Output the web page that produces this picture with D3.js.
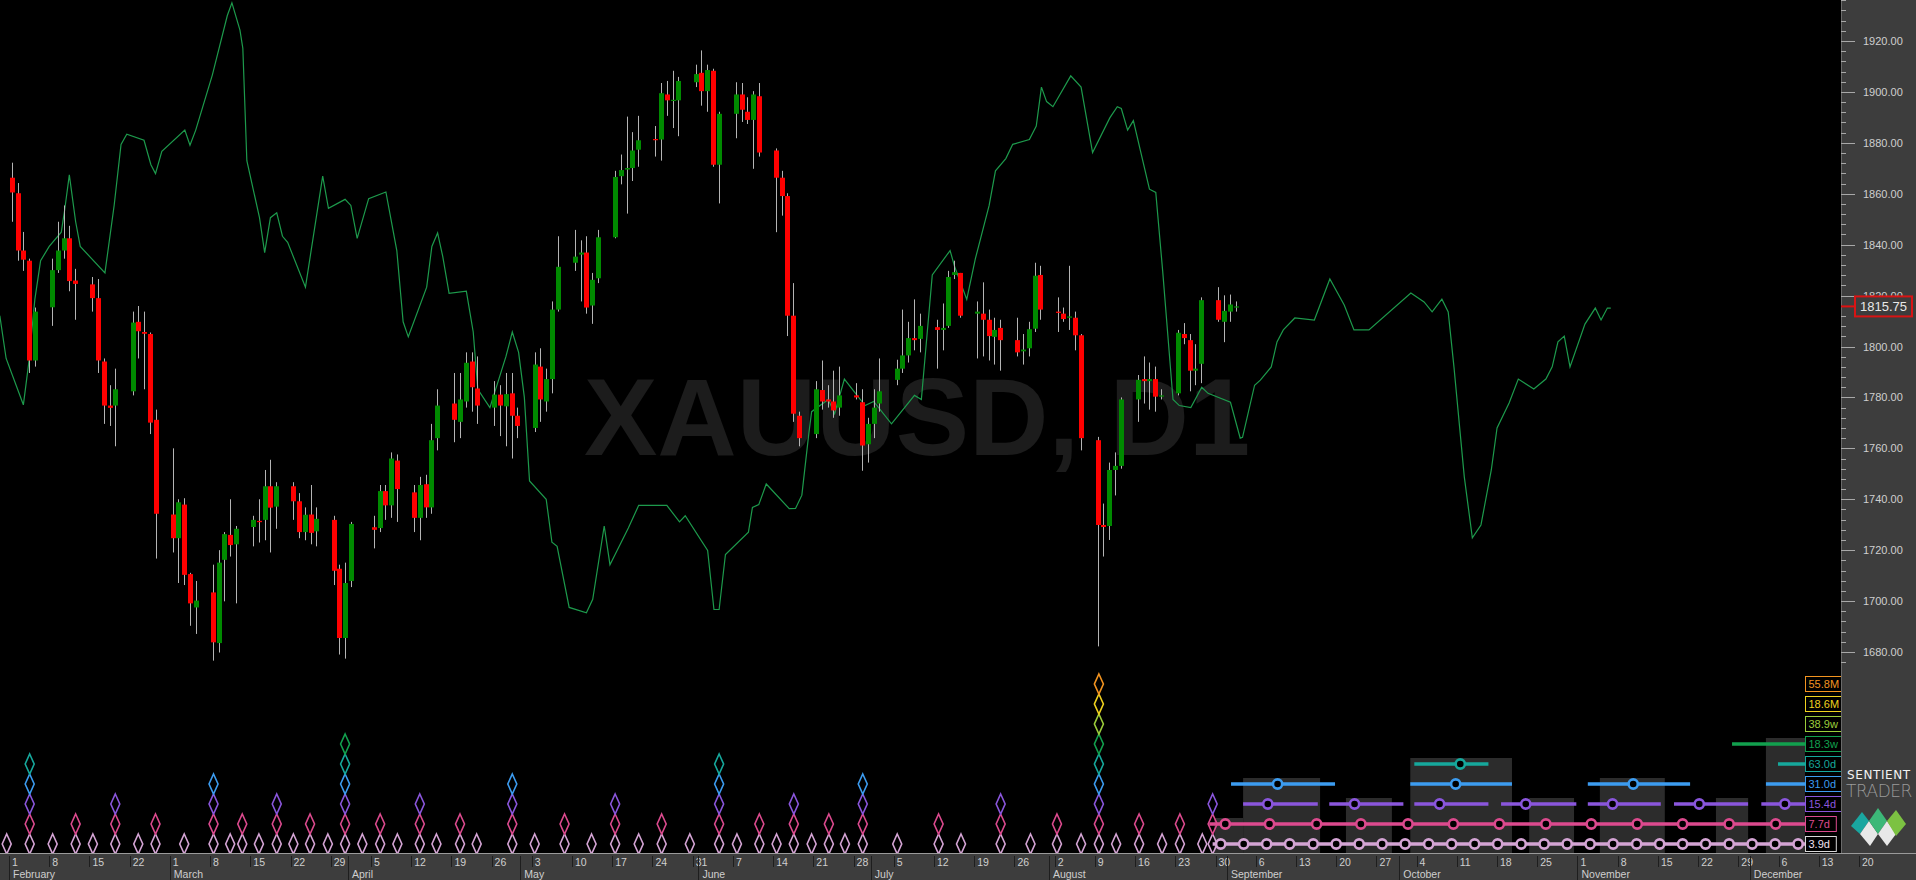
<!DOCTYPE html>
<html><head><meta charset="utf-8">
<script src="https://cdn.jsdelivr.net/npm/d3@7"></script>
<style>html,body{margin:0;padding:0;background:#000;overflow:hidden}svg{display:block}</style>
</head><body>
<svg id="c" width="1916" height="880"></svg>
<script>
// ---------------- DATA ----------------
const candleDates = ["02-01","02-02","02-03","02-04","02-05","02-08","02-09","02-10","02-11","02-12","02-15","02-16","02-17","02-18","02-19","02-22","02-23","02-24","02-25","02-26","03-01","03-02","03-03","03-04","03-05","03-08","03-09","03-10","03-11","03-12","03-15","03-16","03-17","03-18","03-19","03-22","03-23","03-24","03-25","03-26","03-29","03-30","03-31","04-01","04-05","04-06","04-07","04-08","04-09","04-12","04-13","04-14","04-15","04-16","04-19","04-20","04-21","04-22","04-23","04-26","04-27","04-28","04-29","04-30","05-03","05-04","05-05","05-06","05-07","05-10","05-11","05-12","05-13","05-14","05-17","05-18","05-19","05-20","05-21","05-24","05-25","05-26","05-27","05-28","05-31","06-01","06-02","06-03","06-04","06-07","06-08","06-09","06-10","06-11","06-14","06-15","06-16","06-17","06-18","06-21","06-22","06-23","06-24","06-25","06-28","06-29","06-30","07-01","07-02","07-05","07-06","07-07","07-08","07-09","07-12","07-13","07-14","07-15","07-16","07-19","07-20","07-21","07-22","07-23","07-26","07-27","07-28","07-29","07-30","08-02","08-03","08-04","08-05","08-06","08-09","08-10","08-11","08-12","08-13","08-16","08-17","08-18","08-19","08-20","08-23","08-24","08-25","08-26","08-27","08-30","08-31","09-01","09-02"];
const openP  = [1866.3,1860.2,1837.7,1833.7,1794.5,1815.4,1830.0,1837.7,1842.5,1825.9,1824.4,1819.0,1794.1,1776.8,1776.8,1782.4,1809.7,1805.7,1804.9,1771.2,1734.0,1724.7,1737.9,1710.6,1697.5,1703.4,1683.5,1716.2,1726.0,1722.3,1729.1,1731.5,1731.9,1745.1,1737.1,1745.1,1739.2,1727.1,1734.0,1727.4,1731.9,1712.7,1685.5,1707.9,1729.0,1728.7,1743.2,1737.6,1755.2,1742.7,1732.7,1745.9,1736.8,1764.0,1777.6,1770.4,1778.4,1794.1,1783.5,1776.0,1781.1,1776.5,1781.6,1772.8,1768.0,1792.1,1778.4,1787.2,1814.5,1832.9,1836.1,1836.9,1816.1,1826.8,1842.9,1866.9,1869.5,1870.1,1877.3,1881.5,1881.3,1899.0,1896.7,1896.7,1903.8,1907.5,1900.3,1908.3,1871.4,1891.4,1899.0,1892.2,1889.0,1898.3,1877.0,1866.3,1859.1,1812.1,1772.8,1765.6,1782.9,1779.2,1778.4,1776.0,1780.8,1778.1,1761.6,1769.6,1777.6,1786.9,1791.3,1796.5,1803.3,1803.0,1807.6,1806.5,1808.1,1828.1,1828.9,1812.9,1812.9,1810.5,1803.8,1807.3,1802.5,1798.1,1799.3,1807.0,1828.1,1813.7,1812.9,1811.3,1811.3,1804.4,1763.2,1729.9,1729.5,1751.5,1753.1,1779.2,1787.2,1786.4,1787.2,1780.3,1781.6,1804.9,1802.5,1790.5,1793.2,1818.2,1809.7,1813.7,1815.3];
const highP  = [1872.2,1864.2,1845.0,1834.5,1815.3,1834.5,1849.0,1855.4,1847.4,1830.5,1827.3,1826.5,1795.3,1784.8,1791.3,1813.7,1815.9,1813.7,1805.5,1775.2,1760.0,1740.0,1740.4,1711.1,1707.9,1714.3,1720.0,1727.1,1740.0,1729.5,1733.5,1740.0,1751.5,1755.5,1746.7,1746.7,1742.4,1736.8,1745.6,1736.8,1733.5,1714.3,1715.1,1731.1,1733.5,1745.6,1745.6,1758.4,1757.6,1745.6,1748.8,1749.6,1769.6,1783.2,1789.6,1789.6,1797.7,1797.7,1796.1,1786.4,1784.8,1789.6,1789.6,1776.0,1797.7,1799.3,1791.3,1817.7,1843.3,1845.8,1841.7,1843.3,1828.9,1845.8,1869.0,1875.4,1890.3,1884.2,1890.6,1886.6,1903.5,1904.3,1908.3,1905.9,1910.7,1916.3,1910.7,1909.1,1892.2,1903.8,1903.5,1897.9,1900.3,1903.5,1877.8,1869.0,1860.2,1824.9,1774.4,1786.4,1794.5,1784.8,1790.5,1792.1,1785.6,1783.2,1772.0,1783.2,1795.3,1794.8,1814.5,1809.7,1818.5,1812.9,1810.5,1816.9,1829.7,1833.7,1828.9,1817.7,1825.2,1814.5,1811.3,1810.5,1811.3,1804.9,1809.7,1832.9,1831.7,1819.3,1815.3,1831.7,1813.7,1804.9,1764.5,1738.3,1754.4,1758.4,1780.0,1788.8,1796.1,1793.7,1792.1,1783.2,1806.5,1809.2,1804.9,1800.9,1819.3,1823.3,1820.1,1820.4,1817.7];
const lowP   = [1849.0,1833.7,1829.7,1789.6,1792.1,1808.1,1828.9,1834.5,1821.7,1810.5,1813.7,1789.6,1769.6,1768.8,1760.8,1780.8,1795.3,1783.2,1765.6,1716.7,1719.1,1707.1,1706.3,1690.3,1687.1,1676.6,1679.8,1699.9,1717.5,1699.1,1721.5,1723.0,1723.9,1719.1,1728.4,1731.9,1724.7,1723.9,1722.3,1721.5,1706.3,1679.0,1677.4,1705.5,1720.7,1727.1,1731.9,1732.7,1731.1,1727.1,1723.9,1732.7,1734.3,1759.2,1762.4,1764.0,1776.0,1774.4,1769.6,1768.8,1764.8,1760.8,1756.0,1764.0,1766.4,1770.4,1774.4,1781.6,1813.7,1829.7,1817.7,1812.9,1808.9,1824.9,1842.5,1863.7,1852.2,1865.0,1870.6,1874.6,1873.0,1890.6,1885.8,1882.6,1901.9,1894.6,1892.2,1870.6,1856.2,1881.8,1888.2,1887.4,1869.8,1874.6,1844.9,1851.4,1804.1,1770.4,1760.8,1764.0,1775.2,1776.0,1772.0,1772.8,1779.2,1751.2,1754.4,1764.0,1774.4,1784.8,1789.6,1793.7,1798.5,1797.7,1791.3,1798.5,1807.3,1826.5,1811.3,1795.3,1796.1,1794.5,1792.9,1790.5,1796.1,1792.9,1796.1,1805.7,1810.5,1805.7,1809.7,1806.5,1798.5,1759.2,1682.2,1717.5,1724.0,1741.5,1752.0,1770.4,1777.6,1775.2,1774.4,1779.2,1780.8,1800.9,1782.4,1784.8,1785.6,1809.7,1801.7,1809.7,1813.7];
const closeP = [1860.5,1837.7,1834.1,1794.5,1813.7,1830.0,1837.7,1842.5,1825.7,1824.6,1819.0,1794.5,1776.8,1775.9,1783.2,1809.4,1806.0,1805.0,1770.1,1734.3,1724.7,1738.8,1710.3,1699.1,1700.2,1683.8,1715.1,1726.3,1722.0,1728.4,1731.9,1731.0,1745.1,1736.7,1745.1,1739.2,1727.1,1733.9,1726.8,1732.3,1711.9,1685.5,1707.1,1730.3,1728.0,1743.2,1737.6,1756.0,1744.0,1732.7,1745.6,1736.8,1763.2,1776.8,1771.2,1779.2,1793.6,1784.0,1776.8,1781.1,1776.8,1781.3,1772.8,1768.8,1792.9,1779.2,1787.2,1814.5,1831.3,1835.3,1836.9,1815.3,1826.2,1842.9,1866.6,1869.3,1870.1,1877.0,1881.0,1881.2,1899.5,1896.7,1896.9,1904.3,1907.0,1900.3,1908.6,1871.4,1891.4,1899.0,1893.0,1889.0,1899.0,1876.2,1866.3,1859.1,1812.1,1773.6,1764.0,1783.2,1778.4,1778.4,1774.9,1780.8,1780.0,1761.1,1769.6,1776.0,1782.4,1791.3,1796.5,1803.3,1802.5,1808.1,1806.5,1807.3,1827.3,1829.2,1812.1,1813.7,1810.5,1804.1,1806.5,1802.5,1797.7,1798.8,1806.8,1827.8,1814.5,1813.2,1810.8,1811.8,1804.4,1764.0,1729.9,1729.1,1751.5,1753.1,1779.2,1786.9,1786.4,1787.2,1780.3,1780.8,1805.4,1803.3,1790.5,1791.3,1818.2,1810.5,1814.0,1816.5,1815.75];

// composite cycle line (day offset from 1 Feb, value)
const lineDays = [-2.1,-1.0,2.0,2.9,4.0,5.0,6.5,8.6,9.2,10.0,11.1,11.9,16.2,17.8,19.0,20.0,23.0,24.2,25.0,26.1,30.1,31.0,32.0,34.9,37.5,38.3,39.7,40.2,40.9,43.1,44.0,45.0,46.1,47.1,48.0,51.1,54.1,55.1,58.0,59.0,60.1,62.1,65.1,67.0,68.1,69.0,72.2,73.1,74.1,75.0,76.1,79.1,80.3,81.1,83.2,86.0,87.1,88.2,89.2,90.1,93.0,94.0,94.9,97.0,100.0,101.1,103.1,104.1,107.3,109.1,114.0,116.2,117.2,121.1,122.2,123.1,124.2,128.2,128.9,130.0,131.3,135.3,136.4,137.5,138.7,139.2,142.1,143.2,144.9,148.5,150.0,153.1,157.1,158.3,160.2,163.3,164.1,166.2,167.7,170.1,171.2,173.0,174.2,177.1,178.3,179.2,180.1,181.2,184.3,186.1,188.1,191.1,192.4,193.1,194.2,195.2,198.0,199.1,200.3,202.1,203.2,205.2,207.1,208.2,212.1,213.8,214.2,216.3,217.3,219.2,220.2,221.3,223.3,226.7,229.4,231.9,233.6,236.2,243.5,245.8,247.2,248.9,250.0,251.0,252.8,254.2,255.7,257.5,258.5,260.6,262.2,264.9,267.0,268.1,269.1,270.2,271.2,273.8,275.6,276.6,277.7,278.3];
const lineVals = [1812.1,1795.3,1777.1,1792.9,1818.5,1833.7,1839.3,1844.9,1853.8,1867.4,1849.0,1839.3,1828.9,1855.4,1879.4,1883.4,1881.0,1871.4,1867.9,1876.7,1885.0,1879.1,1885.0,1906.7,1930.0,1935.0,1924.3,1917.1,1873.0,1850.6,1836.9,1850.6,1852.5,1843.3,1840.9,1823.3,1866.9,1854.3,1857.8,1855.4,1842.5,1858.1,1860.7,1837.7,1809.7,1803.8,1823.3,1839.3,1844.6,1835.3,1820.9,1821.7,1805.7,1783.2,1776.0,1796.1,1805.7,1797.7,1780.0,1747.2,1740.0,1723.1,1721.5,1697.5,1695.4,1700.7,1729.5,1714.3,1728.7,1737.6,1737.6,1731.1,1733.5,1719.9,1696.7,1696.7,1718.3,1727.1,1736.8,1737.9,1746.0,1736.3,1736.4,1741.6,1765.6,1774.4,1779.2,1773.6,1787.2,1776.8,1778.4,1769.6,1780.8,1779.2,1828.1,1837.7,1831.3,1818.5,1834.5,1855.4,1869.0,1873.8,1879.4,1881.3,1886.6,1901.9,1896.2,1894.2,1906.3,1901.9,1876.2,1889.8,1894.2,1893.5,1885.0,1888.7,1861.8,1860.5,1829.7,1779.2,1776.8,1776.0,1784.0,1781.6,1778.1,1764.0,1764.3,1784.8,1786.8,1792.0,1801.8,1806.5,1811.2,1810.4,1826.5,1816.3,1806.5,1806.5,1821.0,1817.5,1813.6,1818.6,1813.6,1792.0,1748.8,1724.8,1729.9,1751.5,1768.0,1777.8,1787.2,1783.3,1787.2,1792.0,1801.8,1804.1,1792.0,1808.8,1815.1,1810.4,1815.1,1815.1];

const priceTicks = [1680,1700,1720,1740,1760,1780,1800,1820,1840,1860,1880,1900,1920];
const lastPrice = 1815.75;

// cycles (index 0 = shortest)
const cycleLabels = ["3.9d","7.7d","15.4d","31.0d","63.0d","18.3w","38.9w","18.6M","55.8M"];
const cycleColors = ["#d4a4d4","#dc4a8e","#8a56dc","#3c9cf0","#16a89c","#12a04e","#9ccc3a","#f0d21e","#f39420"];
// historic trough diamonds: day offset, number of stacked cycles
const troughDays  = [-0.9,3.1,7.1,11.1,14.1,18.0,22.0,25.0,30.0,35.1,38.0,40.1,43.0,46.1,49.0,51.9,55.0,58.0,61.0,64.1,67.1,71.0,73.9,78.0,80.9,87.1,91.0,96.2,100.9,105.0,109.1,113.1,118.0,123.1,126.2,130.1,133.1,136.1,139.2,142.2,145.0,148.1,154.1,161.3,165.2,172.1,177.3,181.9,186.1,189.2,192.2,196.2,200.2,203.3,207.2,209.0];
const troughLevel = [1,5,1,2,1,3,1,2,1,4,1,2,1,3,1,2,1,6,1,2,1,3,1,2,1,4,1,2,1,3,1,2,1,5,1,2,1,3,1,2,1,4,1,2,1,3,1,2,1,9,1,2,1,2,1,3];

// projected cycle rows: circles (day offsets) and segments [start,end]
const projCircles = [
  [210.4,214.4,218.4,222.4,226.5,230.5,234.5,238.5,242.5,246.6,250.6,254.6,258.6,262.7,266.7,270.7,274.7,278.7,282.8,286.8,290.8,294.8,298.9,302.9,306.9,310.9],
  [211.2,218.9,227.1,234.8,243.0,250.9,258.9,267.0,274.9,282.9,290.8,298.9,307.0],
  [218.6,233.7,248.5,263.5,278.6,293.7,308.6],
  [220.3,251.3,282.2],
  [252.1],
  []
];
const projSegments = [
  [[209.0,312.1]],
  [[208.4,312.1]],
  [[214.3,227.3],[229.3,242.2],[244.1,257.0],[259.2,272.3],[274.3,287.0],[289.3,302.2],[304.5,312.1]],
  [[212.2,230.3],[243.4,261.1],[274.3,292.1],[305.3,312.1]],
  [[244.1,257.0],[307.4,312.1]],
  [[299.4,312.1]]
];
// grey trough-zone boxes: [startDay, endDay, top row index]
const zoneBoxes = [
  [209.3,214.3,1],[214.3,227.7,3],[232.2,240.2,2],[243.4,261.1,4],
  [264.1,271.9,2],[276.4,287.7,3],[296.6,302.2,2],[305.3,312.1,5]
];

// ---------------- DRAW ----------------
const W = 1916, H = 880, plotR = 1841, plotB = 853;
const svg = d3.select("#c");
svg.append("rect").attr("width",W).attr("height",H).attr("fill","#000");

const t0 = Date.UTC(2021,1,1);
const x = d3.scaleUtc().domain([new Date(t0), new Date(Date.UTC(2021,11,20))]).range([9, 1859]);
const dayX = d => x(new Date(t0 + (d + 0.5) * 864e5));
const y = d3.scaleLinear().domain([1680,1920]).range([652,41]);

const plot = svg.append("g");
plot.append("clipPath").attr("id","clip").append("rect").attr("width",plotR).attr("height",plotB);
const g = plot.append("g").attr("clip-path","url(#clip)");

// watermark
g.append("text").attr("x",584).attr("y",455).attr("font-family","Liberation Sans, Arial, sans-serif")
 .attr("font-weight","bold").attr("font-size",110).attr("fill","#1c1c1c").text("XAUUSD, D1");

// composite line
const linePts = lineDays.map((d,i)=>[dayX(d), y(lineVals[i])]);
g.append("path").attr("d", d3.line()(linePts)).attr("fill","none").attr("stroke","#1d9a4c").attr("stroke-width",1.2);

// candles
const candles = candleDates.map((s,i)=>({date:new Date("2021-"+s+"T12:00:00Z"),o:openP[i],h:highP[i],l:lowP[i],c:closeP[i]}));
const cg = g.append("g");
cg.selectAll("line.w").data(candles).join("line").attr("class","w")
  .attr("x1",d=>Math.round(x(d.date))+0.5).attr("x2",d=>Math.round(x(d.date))+0.5)
  .attr("y1",d=>y(d.h)).attr("y2",d=>y(d.l)).attr("stroke","#b4b4b4").attr("stroke-width",1);
cg.selectAll("rect.b").data(candles).join("rect").attr("class","b")
  .attr("x",d=>Math.round(x(d.date))-2).attr("width",5)
  .attr("y",d=>y(Math.max(d.o,d.c))).attr("height",d=>Math.max(1.2, Math.abs(y(d.o)-y(d.c))))
  .attr("fill",d=>d.c>=d.o?"#008a00":"#ff0000");

// cycle rows geometry
const rowY = k => 844 - k*20;
// zone boxes
g.selectAll("rect.z").data(zoneBoxes).join("rect").attr("class","z")
  .attr("x",d=>dayX(d[0])).attr("width",d=>dayX(d[1])-dayX(d[0]))
  .attr("y",d=>rowY(d[2])-6).attr("height",d=>plotB-(rowY(d[2])-6))
  .attr("fill","#2c2c2c");

// historic diamonds
const dg = g.append("g").attr("fill","none").attr("stroke-width",1.6);
troughDays.forEach((d,i)=>{
  const cx = dayX(d);
  for(let k=0;k<troughLevel[i];k++){
    const cy = rowY(k);
    dg.append("path").attr("d",`M${cx},${cy-10}L${cx+4.5},${cy}L${cx},${cy+10}L${cx-4.5},${cy}Z`)
      .attr("stroke",cycleColors[k]);
  }
});

// projected segments & circles
projSegments.forEach((segs,k)=>{
  const col = cycleColors[k];
  segs.forEach(s=>{
    g.append("line").attr("x1",dayX(s[0])).attr("x2",Math.min(1805,dayX(s[1])))
     .attr("y1",rowY(k)).attr("y2",rowY(k)).attr("stroke",col).attr("stroke-width",3.5);
  });
  projCircles[k].forEach(d=>{
    g.append("circle").attr("cx",dayX(d)).attr("cy",rowY(k)).attr("r",4.6)
     .attr("fill","#000").attr("stroke",col).attr("stroke-width",2.6);
  });
});

// legend boxes
cycleLabels.forEach((lab,k)=>{
  const cy = rowY(k);
  const tw = lab.length*6.2+6;
  g.append("rect").attr("x",1805.5).attr("y",cy-7.5).attr("width",tw).attr("height",15)
   .attr("fill","#000").attr("stroke",k===0?"#d8d8d8":cycleColors[k]).attr("stroke-width",1);
  g.append("text").attr("x",1808.5).attr("y",cy+4.2).attr("font-family","Liberation Sans, Arial, sans-serif")
   .attr("font-size",11).attr("fill",k===0?"#f0e0f0":cycleColors[k]).text(lab);
});

// ---------------- AXES ----------------
const panel = "#3d3d3d";
svg.append("rect").attr("x",plotR).attr("y",0).attr("width",W-plotR).attr("height",H).attr("fill",panel);
svg.append("rect").attr("x",0).attr("y",plotB).attr("width",W).attr("height",H-plotB).attr("fill",panel);
svg.append("line").attr("x1",0).attr("x2",W).attr("y1",plotB+0.5).attr("y2",plotB+0.5).attr("stroke","#9a9a9a");
svg.append("line").attr("x1",plotR+0.5).attr("x2",plotR+0.5).attr("y1",0).attr("y2",plotB).attr("stroke","#6a6a6a");

// y axis
const yAxisG = svg.append("g").attr("transform",`translate(${plotR},0)`);
const minor = d3.range(1676,1940,4);
yAxisG.selectAll("line.mn").data(minor).join("line").attr("class","mn")
  .attr("x1",0).attr("x2",d=>d%20===0?14:5).attr("y1",d=>Math.round(y(d))+0.5).attr("y2",d=>Math.round(y(d))+0.5)
  .attr("stroke","#a8a8a8");
const yAxis = d3.axisRight(y).tickValues(priceTicks).tickSize(0).tickPadding(22).tickFormat(d3.format(".2f"));
yAxisG.call(yAxis).call(s=>s.select(".domain").remove())
  .call(s=>s.selectAll("text").attr("fill","#cfcfcf").attr("font-size",11).attr("font-family","Liberation Sans, Arial, sans-serif"));

// last price marker
svg.append("line").attr("x1",plotR).attr("x2",1855).attr("y1",y(lastPrice)).attr("y2",y(lastPrice)).attr("stroke","#e01010").attr("stroke-width",2);
svg.append("rect").attr("x",1855).attr("y",y(lastPrice)-10).attr("width",57).attr("height",20)
  .attr("fill",panel).attr("stroke","#d81414").attr("stroke-width",2);
svg.append("text").attr("x",1883.5).attr("y",y(lastPrice)+5).attr("text-anchor","middle")
  .attr("font-family","Liberation Sans, Arial, sans-serif").attr("font-size",13).attr("fill","#e8e8e8").text("1815.75");

// x axis: weekly ticks and month labels
const xg = svg.append("g");
const mondays = d3.utcMonday.range(new Date(t0), new Date(Date.UTC(2021,11,21)));
xg.selectAll("line.wk").data(mondays).join("line").attr("class","wk")
  .attr("x1",d=>Math.round(x(d))+0.5).attr("x2",d=>Math.round(x(d))+0.5).attr("y1",plotB+3).attr("y2",plotB+14).attr("stroke","#1e1e1e");
xg.selectAll("text.wk").data(mondays).join("text").attr("class","wk")
  .attr("x",d=>x(d)+3).attr("y",plotB+13).attr("font-family","Liberation Sans, Arial, sans-serif")
  .attr("font-size",10.5).attr("fill","#cfcfcf").text(d=>d3.utcFormat("%-d")(d));
const months = d3.utcMonth.range(new Date(t0), new Date(Date.UTC(2021,11,2)));
xg.selectAll("line.mo").data(months).join("line").attr("class","mo")
  .attr("x1",d=>Math.round(x(d))+0.5).attr("x2",d=>Math.round(x(d))+0.5).attr("y1",plotB+3).attr("y2",H).attr("stroke","#1e1e1e");
xg.selectAll("text.mo").data(months).join("text").attr("class","mo")
  .attr("x",d=>x(d)+4).attr("y",plotB+25).attr("font-family","Liberation Sans, Arial, sans-serif")
  .attr("font-size",10.5).attr("fill","#cfcfcf").text(d=>d3.utcFormat("%B")(d));

// logo
const lg = svg.append("g");
lg.append("text").attr("x",1847).attr("y",779).attr("font-family","DejaVu Sans, sans-serif").attr("font-size",12)
  .attr("letter-spacing",0.6).attr("fill","#f2f2f2").text("SENTIENT");
lg.append("text").attr("x",1846).attr("y",797).attr("font-family","DejaVu Sans, sans-serif").attr("font-weight","200").attr("font-size",17)
  .attr("letter-spacing",-0.5).attr("fill","#9a9a9a").text("TRADER");
lg.append("path").attr("d","M1851,826 L1862,812 L1869,821 L1860,834 Z").attr("fill","#1aa6a0");
lg.append("path").attr("d","M1860,834 L1869,821 L1878,834 L1870,846 Z").attr("fill","#e8e8e8");
lg.append("path").attr("d","M1869,821 L1878,808 L1887,821 L1878,834 Z").attr("fill","#3cb878");
lg.append("path").attr("d","M1878,834 L1887,821 L1896,834 L1887,846 Z").attr("fill","#e8e8e8");
lg.append("path").attr("d","M1887,821 L1896,810 L1906,824 L1896,836 Z").attr("fill","#7cc242");
</script>
</body></html>
